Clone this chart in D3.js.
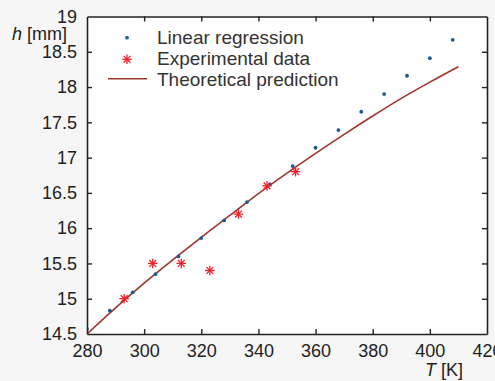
<!DOCTYPE html>
<html><head><meta charset="utf-8">
<script src="https://cdn.jsdelivr.net/npm/d3@7"></script>
<style>
html,body{margin:0;padding:0;background:#f6f6f6;}
svg{display:block;font-family:"Liberation Sans",Arial,sans-serif;}
</style></head>
<body><svg id="c" width="495" height="381"></svg>
<script>
// Linear regression points
const regT = [280,288,296,304,312,320,328,336,344,352,360,368,376,384,392,400,408];
const regH = [14.57,14.83,15.09,15.35,15.60,15.86,16.11,16.37,16.62,16.88,17.14,17.39,17.65,17.90,18.16,18.41,18.67];
// Experimental data
const expT = [293,303,313,323,333,343,353];
const expH = [15.0,15.5,15.5,15.4,16.2,16.6,16.8];
// Theoretical prediction
const thT = [280,290,300,310,320,330,340,350,360,370,380,390,400,410];
const thH = [14.50,14.87,15.22,15.55,15.87,16.18,16.49,16.78,17.06,17.33,17.59,17.84,18.07,18.29];
// Ticks
const xTicks = [280,300,320,340,360,380,400,420];
const yTicks = [14.5,15,15.5,16,16.5,17,17.5,18,18.5,19];

const svg = d3.select("#c");
const L=87, R=487, T=16.5, B=334;
const x = d3.scaleLinear().domain([280,420]).range([L,R]);
const y = d3.scaleLinear().domain([14.5,19]).range([B,T]);

svg.append("rect").attr("x",L).attr("y",T).attr("width",R-L).attr("height",B-T).attr("fill","#fff");

svg.append("clipPath").attr("id","pc").append("rect").attr("x",L).attr("y",T).attr("width",R-L).attr("height",B-T);
const g = svg.append("g").attr("clip-path","url(#pc)");

const line = d3.line().x((d,i)=>x(thT[i])).y(d=>y(d)).curve(d3.curveMonotoneX);
g.append("path").attr("d",line(thH)).attr("fill","none").attr("stroke","#a3342e").attr("stroke-width",1.6);

g.selectAll("circle.reg").data(regH).enter().append("circle")
  .attr("cx",(d,i)=>x(regT[i])).attr("cy",d=>y(d)).attr("r",1.9).attr("fill","#1a5a90");

function star(sel, cx, cy, r){
  const a = sel.append("g").attr("transform",`translate(${cx},${cy})`)
    .attr("stroke","#f0202a").attr("stroke-width",1.3);
  for(let k=0;k<4;k++){
    const ang = k*Math.PI/4;
    a.append("line").attr("x1",-r*Math.cos(ang)).attr("y1",-r*Math.sin(ang))
      .attr("x2",r*Math.cos(ang)).attr("y2",r*Math.sin(ang));
  }
}
expH.forEach((d,i)=>star(g, x(expT[i]), y(d), 4.8));

const axisColor="#222";
const xb = svg.append("g").attr("transform",`translate(0,${B})`)
  .call(d3.axisBottom(x).tickValues(xTicks).tickSizeInner(-5).tickSizeOuter(0).tickPadding(10).tickFormat(d3.format("d")));
const xt = svg.append("g").attr("transform",`translate(0,${T})`)
  .call(d3.axisTop(x).tickValues(xTicks).tickSizeInner(-5).tickSizeOuter(0).tickFormat(""));
const yl = svg.append("g").attr("transform",`translate(${L},0)`)
  .call(d3.axisLeft(y).tickValues(yTicks).tickSizeInner(-5).tickSizeOuter(0).tickPadding(10).tickFormat(d=>String(d)));
const yr = svg.append("g").attr("transform",`translate(${R},0)`)
  .call(d3.axisRight(y).tickValues(yTicks).tickSizeInner(-5).tickSizeOuter(0).tickFormat(""));
[xb,xt,yl,yr].forEach(a=>{
  a.selectAll("path").attr("stroke",axisColor).attr("stroke-width",1.6);
  a.selectAll("line").attr("stroke",axisColor).attr("stroke-width",1.4);
  a.selectAll("text").attr("fill","#222").style("font-size","18px").style("font-family","'Liberation Sans',Arial,sans-serif");
});
xb.selectAll("text").attr("dy","0.71em");
xb.selectAll(".tick").filter(d=>d===280||d===420).select("line").remove();
xt.selectAll(".tick").filter(d=>d===280||d===420).select("line").remove();
yl.selectAll(".tick").filter(d=>d===14.5||d===19).select("line").remove();
yr.selectAll(".tick").filter(d=>d===14.5||d===19).select("line").remove();

const yt = svg.append("text").attr("x",12).attr("y",39.5).attr("fill","#222").style("font-size","18px");
yt.append("tspan").style("font-style","italic").text("h");
yt.append("tspan").text(" [mm]");
const xtl = svg.append("text").attr("x",425).attr("y",376).attr("fill","#222").style("font-size","18px");
xtl.append("tspan").style("font-style","italic").text("T");
xtl.append("tspan").text(" [K]");

const lg = svg.append("g");
const lx = 157;
lg.append("circle").attr("cx",127).attr("cy",37.7).attr("r",1.9).attr("fill","#1a6a8a");
star(lg,127,59.3,4.8);
lg.append("line").attr("x1",108).attr("x2",147).attr("y1",78.7).attr("y2",78.7).attr("stroke","#a3342e").attr("stroke-width",1.6);
const labels = ["Linear regression","Experimental data","Theoretical prediction"];
labels.forEach((t,i)=>lg.append("text").attr("x",lx).attr("y",43.5+i*21.3).attr("fill","#333").style("font-size","19px").text(t));
</script></body></html>
